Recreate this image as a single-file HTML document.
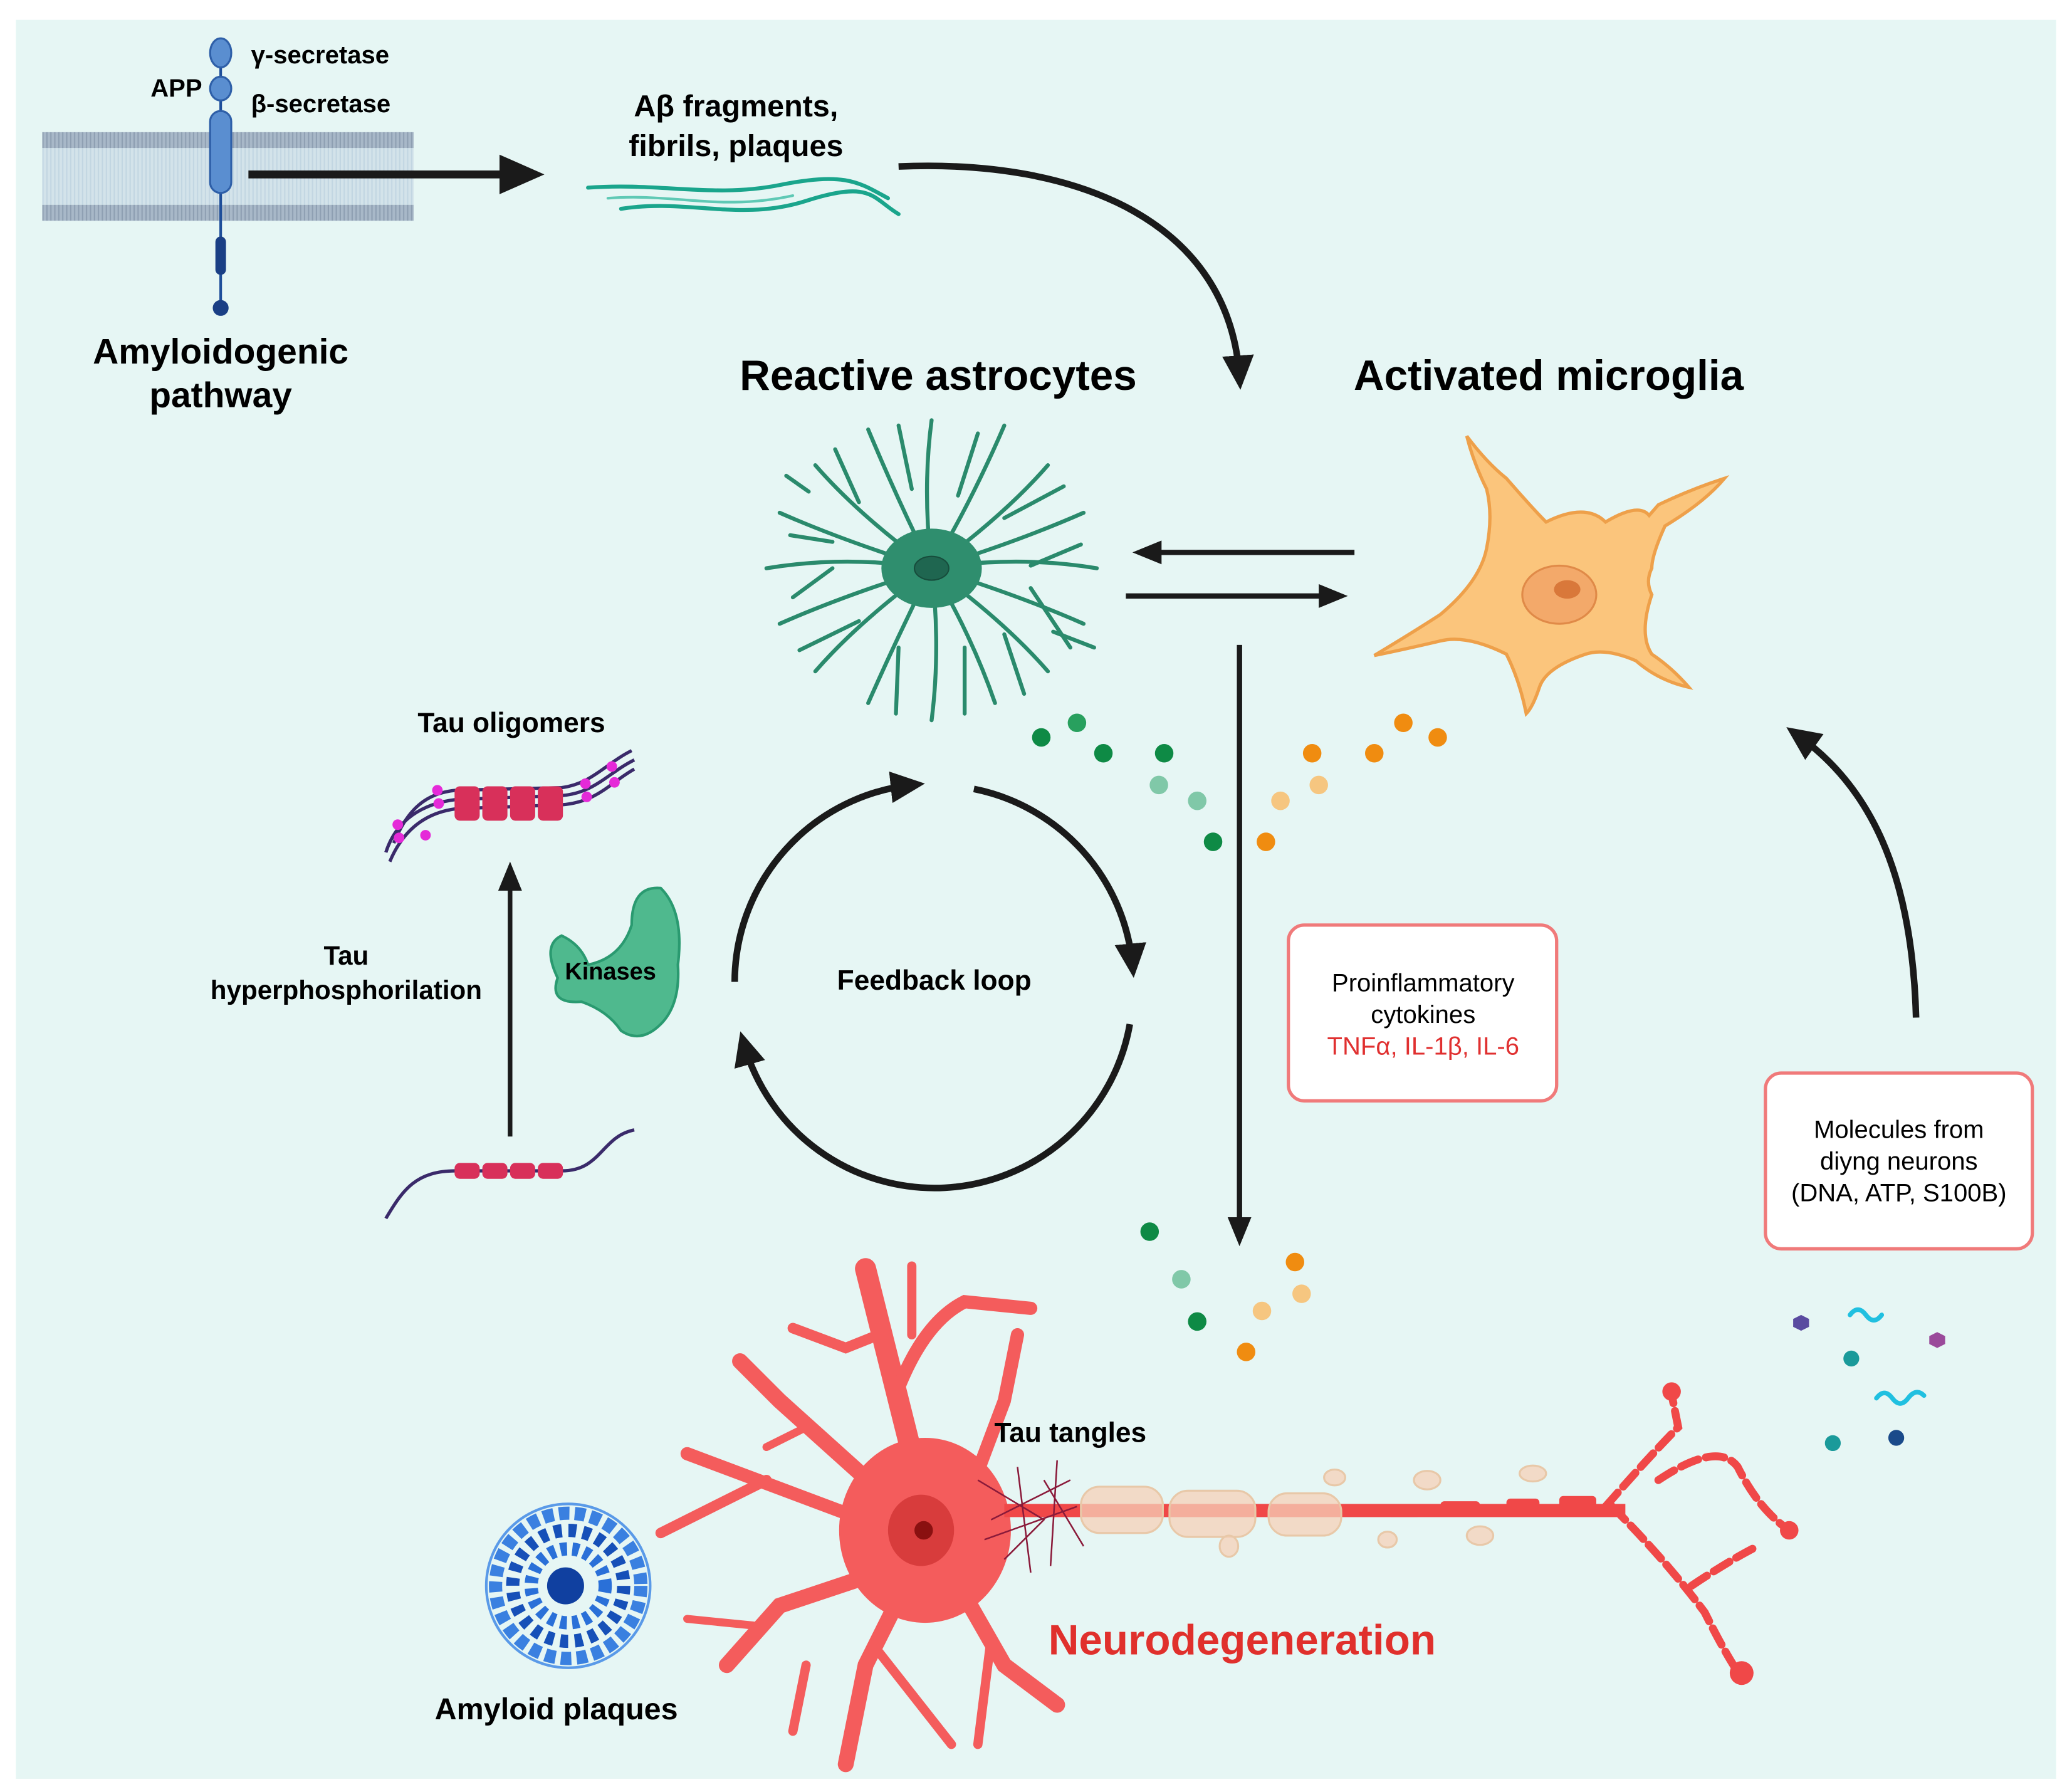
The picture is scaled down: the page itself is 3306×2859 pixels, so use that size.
<!DOCTYPE html>
<html><head><meta charset="utf-8"><style>
html,body{margin:0;padding:0;background:#fff}
svg{display:block}
text{font-family:"Liberation Sans",sans-serif}
.b{font-weight:bold}
</style></head><body>
<svg width="3306" height="2859" viewBox="0 0 1568 1356" xmlns="http://www.w3.org/2000/svg">
<defs>
<marker id="ah" markerWidth="8" markerHeight="8" refX="5" refY="4" orient="auto" markerUnits="userSpaceOnUse" viewBox="0 0 8 8"><path d="M0,0 L8,4 L0,8 z" fill="#1a1a1a"/></marker>
<marker id="ahL" markerWidth="34" markerHeight="30" refX="22" refY="15" orient="auto" markerUnits="userSpaceOnUse"><path d="M0,0 L34,15 L0,30 z" fill="#1a1a1a"/></marker>
<marker id="ahM" markerWidth="26" markerHeight="24" refX="16" refY="12" orient="auto" markerUnits="userSpaceOnUse"><path d="M0,0 L26,12 L0,24 z" fill="#1a1a1a"/></marker>
<marker id="ahS" markerWidth="22" markerHeight="18" refX="14" refY="9" orient="auto" markerUnits="userSpaceOnUse"><path d="M0,0 L22,9 L0,18 z" fill="#1a1a1a"/></marker>
<pattern id="lip" width="3" height="12" patternUnits="userSpaceOnUse"><rect width="3" height="12" fill="#a8b8c8"/><rect x="2" width="1" height="12" fill="#8e9fb2"/></pattern>
<pattern id="lipl" width="3" height="12" patternUnits="userSpaceOnUse"><rect width="3" height="12" fill="#d3e3ea"/><rect x="2" width="1" height="12" fill="#c2d6e2"/></pattern>
</defs>
<rect x="12" y="15" width="1544" height="1331" fill="#e6f6f4"/>

<!-- membrane -->
<rect x="32" y="112" width="281" height="43" fill="url(#lipl)"/>
<rect x="32" y="100" width="281" height="12" fill="url(#lip)"/>
<rect x="32" y="155" width="281" height="12" fill="url(#lip)"/>
<line x1="167" y1="30" x2="167" y2="232" stroke="#1e4e9a" stroke-width="2"/>
<ellipse cx="167" cy="40" rx="8" ry="11" fill="#5a8ed0" stroke="#2e5fa8" stroke-width="1.5"/>
<ellipse cx="167" cy="67" rx="8" ry="9" fill="#5a8ed0" stroke="#2e5fa8" stroke-width="1.5"/>
<rect x="159" y="84" width="16" height="62" rx="8" fill="#5a8ed0" stroke="#2e5fa8" stroke-width="1.5"/>
<rect x="163" y="179" width="8" height="29" rx="4" fill="#1a3f85"/>
<circle cx="167" cy="233" r="6" fill="#1a3f85"/>
<text x="153" y="73" font-size="19" class="b" text-anchor="end">APP</text>
<text x="190" y="48" font-size="19" class="b">γ-secretase</text>
<text x="190" y="85" font-size="19" class="b">β-secretase</text>
<text x="167" y="275" font-size="27" class="b" text-anchor="middle">Amyloidogenic</text>
<text x="167" y="308" font-size="27" class="b" text-anchor="middle">pathway</text>
<line x1="188" y1="132" x2="400" y2="132" stroke="#1a1a1a" stroke-width="6" marker-end="url(#ahL)"/>

<!-- fibrils -->
<text x="557" y="88" font-size="23" class="b" text-anchor="middle">Aβ fragments,</text>
<text x="557" y="118" font-size="23" class="b" text-anchor="middle">fibrils, plaques</text>
<g fill="none" stroke="#1aa58c" stroke-width="3" stroke-linecap="round">
<path d="M445 142 C500 138 540 150 590 140 S650 138 672 150"/>
<path d="M470 158 C520 150 560 168 610 152 S660 150 680 162"/>
<path d="M460 150 C510 146 545 160 600 148" stroke="#5fc9b5" stroke-width="2"/>
</g>
<path d="M680 126 C820 120 930 170 938 285" fill="none" stroke="#1a1a1a" stroke-width="5" marker-end="url(#ahM)"/>

<text x="710" y="295" font-size="32" class="b" text-anchor="middle">Reactive astrocytes</text>
<text x="1172" y="295" font-size="32" class="b" text-anchor="middle">Activated microglia</text>

<!-- astrocyte -->
<g stroke="#2a8a6c" stroke-width="3" fill="none" stroke-linecap="round">
<path d="M705 430 Q770 420 830 430"/><path d="M705 430 Q770 450 820 472"/><path d="M705 430 Q760 470 793 508"/><path d="M705 430 Q735 480 753 532"/>
<path d="M705 430 Q712 490 705 545"/><path d="M705 430 Q680 480 657 532"/><path d="M705 430 Q650 470 617 508"/><path d="M705 430 Q640 450 590 472"/>
<path d="M705 430 Q640 420 580 430"/><path d="M705 430 Q640 410 590 388"/><path d="M705 430 Q650 390 617 352"/><path d="M705 430 Q680 380 657 325"/>
<path d="M705 430 Q698 370 705 318"/><path d="M705 430 Q735 380 760 322"/><path d="M705 430 Q760 390 793 352"/><path d="M705 430 Q770 410 820 388"/>
<path d="M780 428 L818 412"/><path d="M780 445 L810 490"/><path d="M760 480 L775 525"/><path d="M730 490 L730 540"/><path d="M680 490 L678 540"/><path d="M650 470 L605 492"/><path d="M630 430 L600 452"/><path d="M630 410 L598 405"/><path d="M650 380 L632 340"/><path d="M690 370 L680 322"/><path d="M725 375 L740 328"/><path d="M760 392 L805 368"/><path d="M612 372 L595 360"/><path d="M797 478 L828 490"/>
</g>
<ellipse cx="705" cy="430" rx="38" ry="30" fill="#2f8e6e"/>
<ellipse cx="705" cy="430" rx="13" ry="9" fill="#1f6650" stroke="#174d3c"/>

<!-- arrows between -->
<line x1="1025" y1="418" x2="865" y2="418" stroke="#1a1a1a" stroke-width="4" marker-end="url(#ahS)"/>
<line x1="852" y1="451" x2="1012" y2="451" stroke="#1a1a1a" stroke-width="4" marker-end="url(#ahS)"/>

<!-- microglia -->
<path d="M1110 330 Q1125 350 1140 362 Q1160 385 1170 395 Q1200 380 1215 395 Q1240 380 1248 390 L1255 382 Q1280 370 1305 362 Q1290 380 1260 398 Q1250 420 1250 430 Q1245 440 1250 450 Q1240 480 1250 495 Q1265 505 1278 520 Q1255 515 1238 500 Q1215 490 1200 495 Q1170 505 1165 520 Q1160 535 1155 540 Q1150 515 1140 495 Q1110 480 1090 485 Q1060 492 1040 496 Q1070 478 1090 465 Q1120 440 1125 415 Q1130 390 1125 370 Q1115 350 1110 330 Z" fill="#fbc57c" stroke="#eea04a" stroke-width="2.5"/>
<ellipse cx="1180" cy="450" rx="28" ry="22" fill="#f3a96a" stroke="#e08a48" stroke-width="1.5"/>
<ellipse cx="1186" cy="446" rx="10" ry="7" fill="#d9783a"/>

<!-- vertical arrow -->
<line x1="938" y1="488" x2="938" y2="935" stroke="#1a1a1a" stroke-width="4" marker-end="url(#ahS)"/>

<!-- dots -->
<g>
<circle cx="788" cy="558" r="7" fill="#0e8a45"/><circle cx="815" cy="547" r="7" fill="#28a05e"/><circle cx="835" cy="570" r="7" fill="#0e8a45"/><circle cx="881" cy="570" r="7" fill="#0e8a45"/><circle cx="877" cy="594" r="7" fill="#80c8a8"/><circle cx="906" cy="606" r="7" fill="#80c8a8"/><circle cx="918" cy="637" r="7" fill="#0e8a45"/>
<circle cx="993" cy="570" r="7" fill="#f08c10"/><circle cx="1040" cy="570" r="7" fill="#f08c10"/><circle cx="1062" cy="547" r="7" fill="#f08c10"/><circle cx="1088" cy="558" r="7" fill="#f08c10"/><circle cx="969" cy="606" r="7" fill="#f6c680"/><circle cx="998" cy="594" r="7" fill="#f6c680"/><circle cx="958" cy="637" r="7" fill="#f08c10"/>
<circle cx="870" cy="932" r="7" fill="#0e8a45"/><circle cx="894" cy="968" r="7" fill="#80c8a8"/><circle cx="906" cy="1000" r="7" fill="#0e8a45"/>
<circle cx="980" cy="955" r="7" fill="#f08c10"/><circle cx="985" cy="979" r="7" fill="#f6c680"/><circle cx="955" cy="992" r="7" fill="#f6c680"/><circle cx="943" cy="1023" r="7" fill="#f08c10"/>
</g>

<!-- boxes -->
<rect x="975" y="700" width="203" height="133" rx="12" fill="#fff" stroke="#f07a7a" stroke-width="2.5"/>
<text x="1077" y="750" font-size="19" text-anchor="middle">Proinflammatory</text>
<text x="1077" y="774" font-size="19" text-anchor="middle">cytokines</text>
<text x="1077" y="798" font-size="19" text-anchor="middle" fill="#e03030">TNFα, IL-1β, IL-6</text>
<rect x="1336" y="812" width="202" height="133" rx="12" fill="#fff" stroke="#f07a7a" stroke-width="2.5"/>
<text x="1437" y="861" font-size="19" text-anchor="middle">Molecules from</text>
<text x="1437" y="885" font-size="19" text-anchor="middle">diyng neurons</text>
<text x="1437" y="909" font-size="19" text-anchor="middle">(DNA, ATP, S100B)</text>
<path d="M1450 770 C1447 660 1415 595 1360 556" fill="none" stroke="#1a1a1a" stroke-width="5" marker-end="url(#ahM)"/>

<!-- feedback loop -->
<g fill="none" stroke="#1a1a1a" stroke-width="5">
<path d="M556 743 A150 150 0 0 1 690 594" marker-end="url(#ahM)"/>
<path d="M737 597 A150 150 0 0 1 857 730" marker-end="url(#ahM)"/>
<path d="M855 775 A150 150 0 0 1 563 790" marker-end="url(#ahM)"/>
</g>
<text x="707" y="749" font-size="21" class="b" text-anchor="middle">Feedback loop</text>

<!-- tau -->
<text x="387" y="554" font-size="21" class="b" text-anchor="middle">Tau oligomers</text>
<g fill="none" stroke="#3a2a6a" stroke-width="2.5">
<path d="M292 645 C300 620 320 608 345 605 L425 602 C450 600 460 585 480 575"/>
<path d="M295 652 C305 628 322 615 345 612 L425 609 C452 607 462 592 480 582"/>
<path d="M298 638 C308 613 322 600 345 598 L425 596 C448 593 458 578 478 568"/>
</g>
<g fill="#d8305a">
<rect x="344" y="595" width="19" height="26" rx="4"/><rect x="365" y="595" width="19" height="26" rx="4"/><rect x="386" y="595" width="19" height="26" rx="4"/><rect x="407" y="595" width="19" height="26" rx="4"/>
</g>
<g fill="#e52ad8"><circle cx="301" cy="624" r="4"/><circle cx="302" cy="634" r="4"/><circle cx="322" cy="632" r="4"/><circle cx="331" cy="598" r="4"/><circle cx="332" cy="608" r="4"/><circle cx="443" cy="593" r="4"/><circle cx="444" cy="603" r="4"/><circle cx="463" cy="580" r="4"/><circle cx="465" cy="592" r="4"/></g>
<line x1="386" y1="860" x2="386" y2="660" stroke="#1a1a1a" stroke-width="3.5" marker-end="url(#ahS)"/>
<text x="262" y="730" font-size="20" class="b" text-anchor="middle">Tau</text>
<text x="262" y="756" font-size="20" class="b" text-anchor="middle">hyperphosphorilation</text>
<path d="M422 740 Q410 715 425 708 Q440 715 445 730 Q470 725 478 700 Q478 670 500 672 Q518 690 513 730 Q515 760 500 775 Q485 790 470 780 Q460 765 440 758 Q415 760 422 740 Z" fill="#4fb98e" stroke="#2a9a70" stroke-width="2"/>
<text x="462" y="741" font-size="18" class="b" text-anchor="middle">Kinases</text>
<path d="M292 922 C305 900 315 886 345 886 L425 886 C455 886 455 860 480 855" fill="none" stroke="#3a2a6a" stroke-width="2.5"/>
<g fill="#d8305a"><rect x="344" y="880" width="19" height="12" rx="4"/><rect x="365" y="880" width="19" height="12" rx="4"/><rect x="386" y="880" width="19" height="12" rx="4"/><rect x="407" y="880" width="19" height="12" rx="4"/></g>

<!-- molecules -->
<polygon points="1363,995 1369,998 1369,1004 1363,1007 1357,1004 1357,998" fill="#5a4ba0"/>
<polygon points="1466,1008 1472,1011 1472,1017 1466,1020 1460,1017 1460,1011" fill="#9a4a9a"/>
<circle cx="1401" cy="1028" r="6" fill="#1a9a9a"/><circle cx="1387" cy="1092" r="6" fill="#1a9a9a"/><circle cx="1435" cy="1088" r="6" fill="#1a4a8a"/>
<path d="M1400 995 q6 -8 12 0 t12 0" fill="none" stroke="#20c0e0" stroke-width="3.5" stroke-linecap="round"/>
<path d="M1420 1058 q6 -8 12 0 t12 0 t12 -2" fill="none" stroke="#20c0e0" stroke-width="3.5" stroke-linecap="round"/>

<!-- amyloid plaque -->
<g fill="none" stroke="#1a5cc8" stroke-width="2">
<circle cx="430" cy="1200" r="55" stroke="#3a80e0" stroke-width="10" stroke-dasharray="8 4"/>
<circle cx="430" cy="1200" r="42" stroke="#1650b8" stroke-width="10" stroke-dasharray="6 5"/>
<circle cx="430" cy="1200" r="28" stroke="#2a70d8" stroke-width="10" stroke-dasharray="5 4"/>
<circle cx="430" cy="1200" r="62" stroke="#5a9ae8" stroke-width="2"/>
</g>
<circle cx="428" cy="1200" r="14" fill="#1040a0"/>
<text x="421" y="1301" font-size="23" class="b" text-anchor="middle">Amyloid plaques</text>

<!-- neuron -->
<g fill="none" stroke="#f45c5c" stroke-linecap="round">
<path d="M700 1140 L655 960" stroke-width="16"/><path d="M665 1010 L640 1020 L600 1005" stroke-width="8"/><path d="M680 1050 Q700 1000 730 985 L780 990" stroke-width="10"/><path d="M690 1010 L690 958" stroke-width="7"/>
<path d="M690 1150 L590 1060 L560 1030" stroke-width="12"/><path d="M610 1080 L580 1095" stroke-width="6"/>
<path d="M680 1160 L600 1130 L520 1100" stroke-width="10"/><path d="M580 1120 L500 1160" stroke-width="8"/>
<path d="M680 1185 L590 1215 L550 1260" stroke-width="12"/><path d="M570 1230 L520 1225" stroke-width="6"/>
<path d="M690 1190 L655 1260 L640 1335" stroke-width="12"/><path d="M665 1250 L720 1320" stroke-width="7"/><path d="M610 1260 L600 1310" stroke-width="7"/>
<path d="M720 1190 L760 1260 L800 1290" stroke-width="12"/><path d="M750 1240 L740 1320" stroke-width="7"/>
<path d="M730 1140 L760 1060 L770 1010" stroke-width="10"/>
</g>
<ellipse cx="700" cy="1158" rx="65" ry="70" fill="#f45c5c"/>
<ellipse cx="697" cy="1158" rx="25" ry="27" fill="#d83c3c"/>
<circle cx="699" cy="1158" r="7" fill="#8a1010"/>
<!-- axon -->
<rect x="760" y="1138" width="470" height="10" fill="#f04848"/>
<g fill="#f5d0b8" fill-opacity="0.75" stroke="#e8c8a8" stroke-width="1.5">
<rect x="818" y="1125" width="62" height="35" rx="14"/><rect x="885" y="1128" width="65" height="35" rx="14"/><rect x="960" y="1130" width="55" height="32" rx="14"/>
<ellipse cx="930" cy="1170" rx="7" ry="8"/><ellipse cx="1010" cy="1118" rx="8" ry="6"/><ellipse cx="1080" cy="1120" rx="10" ry="7"/><ellipse cx="1120" cy="1162" rx="10" ry="7"/><ellipse cx="1160" cy="1115" rx="10" ry="6"/><ellipse cx="1050" cy="1165" rx="7" ry="6"/>
</g>
<g stroke="#8a1a3a" stroke-width="1.2" fill="none">
<path d="M740 1120 L790 1150 L760 1180 M750 1150 L810 1120 M770 1110 L780 1190 M790 1120 L820 1170 M745 1165 L815 1140 M800 1105 L795 1185"/>
</g>
<g fill="#f04848">
<rect x="1050" y="1140" width="25" height="8" rx="3"/><rect x="1090" y="1136" width="30" height="8" rx="3"/><rect x="1140" y="1134" width="25" height="8" rx="3"/><rect x="1180" y="1132" width="28" height="9" rx="3"/>
</g>
<g fill="none" stroke="#f04848" stroke-width="6" stroke-linecap="round" stroke-dasharray="14 6">
<path d="M1215 1140 Q1250 1100 1270 1080 L1265 1055"/>
<path d="M1220 1140 Q1260 1180 1290 1220 Q1305 1250 1315 1265"/>
<path d="M1255 1120 Q1300 1090 1315 1110 Q1330 1140 1350 1155"/>
<path d="M1280 1200 Q1310 1180 1330 1170"/>
</g>
<circle cx="1265" cy="1053" r="7" fill="#f04848"/><circle cx="1318" cy="1266" r="9" fill="#f04848"/><circle cx="1354" cy="1158" r="7" fill="#f04848"/>
<text x="810" y="1091" font-size="21" class="b" text-anchor="middle">Tau tangles</text>
<text x="940" y="1252" font-size="32" class="b" text-anchor="middle" fill="#e0302c">Neurodegeneration</text>
</svg>
</body></html>
